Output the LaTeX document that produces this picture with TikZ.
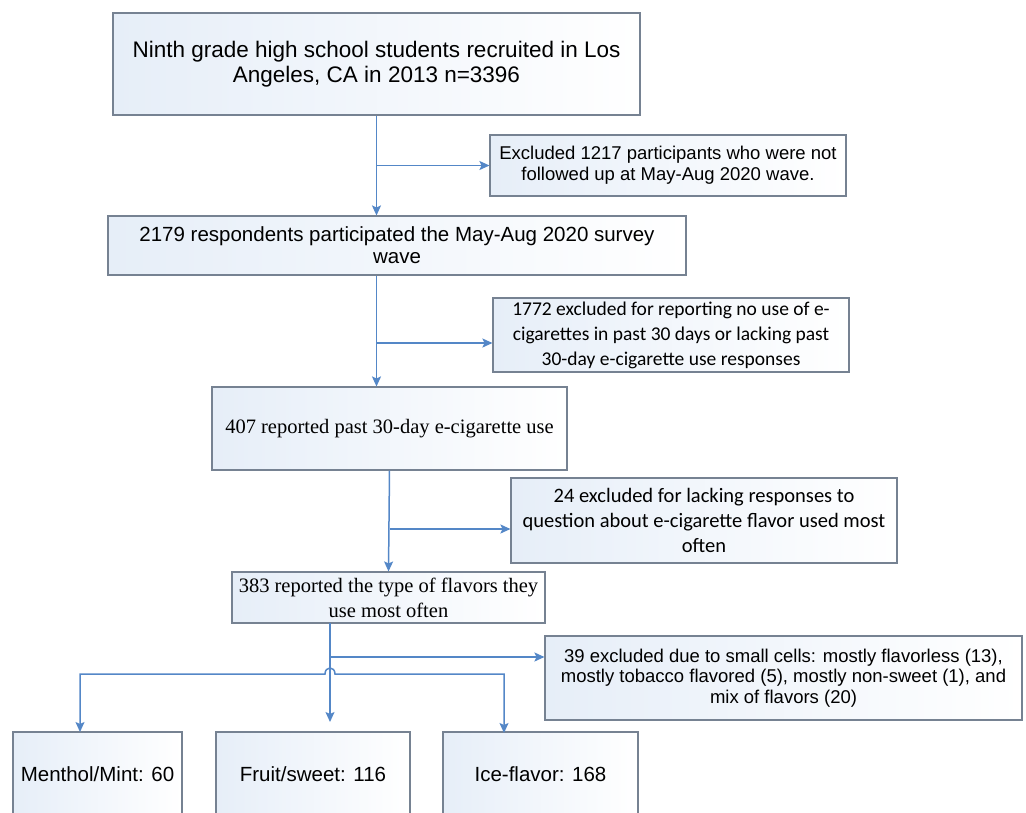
\documentclass[tikz,border=0pt]{standalone}
\usepackage{fontspec}
\setmainfont{Liberation Sans}
\newfontfamily\calfont{Carlito}
\newfontfamily\timesfont{Liberation Serif}
\usetikzlibrary{arrows.meta}
\definecolor{flowblue}{RGB}{84,135,199}
\definecolor{edgegray}{RGB}{118,130,146}
\definecolor{tint}{RGB}{230,238,248}
\begin{document}
\begin{tikzpicture}[x=1pt,y=-1pt,>={Stealth[length=10pt,width=9pt,inset=2pt]},
	box/.style={draw=edgegray,line width=1.1pt,left color=tint,right color=white,align=center,inner sep=2pt},
	flw/.style={draw=flowblue,line width=1.5pt,->}]
			\useasboundingbox (0,0) rectangle (1026,812);
			\clip (0,0) rectangle (1026,812);
			\node[box,minimum width=527,minimum height=102,font=\fontsize{22.5}{25}\selectfont] (recruit) at (376.5,64)
			{Ninth grade high school students recruited in Los\\Angeles, CA in 2013 n=3396};
			\node[box,minimum width=356,minimum height=61,font=\fontsize{18.5}{21}\selectfont] (lost) at (668,165.5)
			{Excluded 1217 participants who were not\\followed up at May-Aug 2020 wave.};
			\node[box,minimum width=578,minimum height=59,font=\fontsize{20.5}{22}\selectfont] (wave) at (397,245.5)
			{2179 respondents participated the May-Aug 2020 survey\\wave};
			\node[box,minimum width=356,minimum height=74,font=\calfont\fontsize{19.5}{25}\selectfont] (nouse) at (671,335)
			{1772 excluded for reporting no use of e-\\cigarettes in past 30 days or lacking past\\30-day e-cigarette use responses};
			\node[box,minimum width=355,minimum height=83,font=\timesfont\fontsize{20.5}{22}\selectfont] (pastuse) at (389.5,428.5)
			{407 reported past 30-day e-cigarette use};
			\node[box,minimum width=386,minimum height=85,font=\calfont\fontsize{20.5}{25}\selectfont] (noflavor) at (704,520.5)
			{24 excluded for lacking responses to\\question about e-cigarette flavor used most\\often};
			\node[box,minimum width=313,minimum height=51,font=\timesfont\fontsize{20.5}{25}\selectfont] (flavor) at (388.5,597.5)
			{383 reported the type of flavors they\\use most often};
			\node[box,minimum width=477,minimum height=84,font=\fontsize{18.5}{20.5}\selectfont] (small) at (783.5,678)
			{39 excluded due to small cells: mostly flavorless (13),\\mostly tobacco flavored (5), mostly non-sweet (1), and\\mix of flavors (20)};
			\node[box,minimum width=169,minimum height=84,font=\fontsize{20.5}{22}\selectfont] (menthol) at (97.5,774) {Menthol/Mint: 60};
			\node[box,minimum width=194,minimum height=84,font=\fontsize{20.5}{22}\selectfont] (fruit) at (313,774) {Fruit/sweet: 116};
			\node[box,minimum width=195,minimum height=84,font=\fontsize{20.5}{22}\selectfont] (ice) at (540.5,774) {Ice-flavor: 168};
			\draw[flw] (recruit.south) -- (recruit.south |- wave.north);
			\draw[flw] (recruit.south |- lost.west) -- (lost.west);
			\coordinate (v2) at (recruit.south |- wave.south);
			\draw[flw] (v2) -- (v2 |- pastuse.north);
			\coordinate (b2) at (376.5,343);
			\draw[flw] (b2) -- (b2 -| nouse.west);
			\draw[flw] (pastuse.south) -- (flavor.north);
			\coordinate (b3) at (389.5,529);
			\draw[flw] (b3) -- (b3 -| noflavor.west);
			\coordinate (v4) at (330,623);
			\coordinate (v4end) at (330,722);
			\draw[flw] (v4) -- (v4end);
			\coordinate (b4) at (330,657);
			\draw[flw] (b4) -- (b4 -| small.west);
			\coordinate (mtop) at (80,732);
			\coordinate (itop) at (504,733);
			\draw[flw,<->] (mtop) |- (325,674) .. controls (325,666) and (335,666) .. (335,674) -| (itop);
\end{tikzpicture}
\end{document}
